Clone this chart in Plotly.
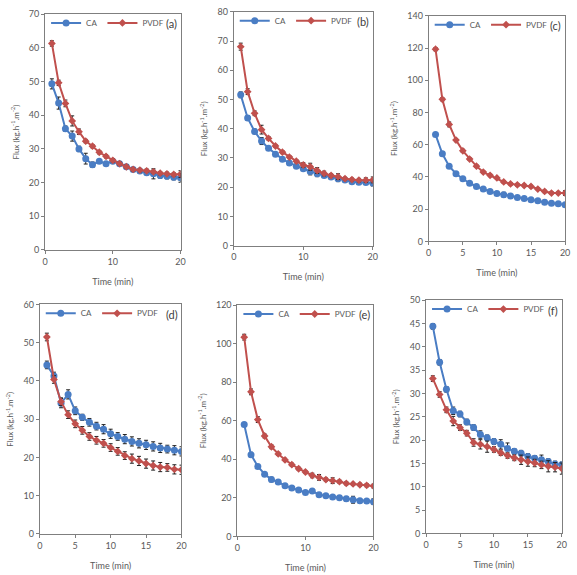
import plotly.graph_objects as go

time_min = list(range(1, 21))

# ---- panel (a)
ca_a = [49.3, 43.6, 36.0, 33.8, 30.0, 27.1, 25.3, 26.3, 25.6, 26.3, 25.6, 24.7, 23.9, 23.4, 22.9, 22.6, 22.1, 21.9, 21.6, 21.4]
pvdf_a = [61.3, 49.6, 43.5, 38.3, 35.1, 32.3, 30.8, 29.0, 27.8, 26.6, 25.6, 24.7, 23.9, 23.7, 23.5, 23.2, 22.8, 22.6, 22.4, 22.5]
ca_a_err = [1.5, 1.8, 0.8, 1.5, 0.8, 1.6, 0.8, 0.5, 0.5, 0.5, 0.5, 0.5, 0.5, 0.5, 0.6, 1.5, 0.8, 0.8, 0.8, 1.3]
pvdf_a_err = [0.8, 0.8, 1.0, 1.5, 0.8, 0.5, 0.5, 0.5, 0.5, 0.5, 0.5, 0.5, 0.5, 0.5, 0.5, 0.5, 0.5, 0.5, 0.5, 1.0]

# ---- panel (b)
ca_b = [51.6, 43.7, 39.1, 35.8, 33.3, 31.3, 29.6, 28.3, 27.2, 26.3, 25.4, 24.6, 24.0, 23.5, 22.9, 22.5, 21.9, 21.7, 21.6, 21.4]
pvdf_b = [68.1, 52.7, 45.3, 39.7, 36.7, 34.1, 32.0, 30.3, 28.9, 27.6, 27.0, 25.7, 24.7, 24.0, 23.6, 22.9, 22.6, 22.4, 22.4, 22.5]
ca_b_err = [1.0, 0.8, 0.8, 1.2, 0.6, 0.5, 0.5, 0.5, 0.5, 0.5, 1.2, 1.0, 0.6, 0.6, 1.0, 0.5, 0.6, 0.6, 0.6, 1.0]
pvdf_b_err = [1.2, 1.0, 0.8, 1.5, 0.6, 0.5, 0.5, 0.5, 0.5, 0.8, 1.2, 1.0, 0.8, 0.6, 1.0, 0.5, 0.5, 0.6, 0.8, 1.0]

# ---- panel (c)
ca_c = [66.3, 54.4, 46.7, 42.0, 38.9, 36.1, 34.1, 32.5, 31.0, 29.8, 29.0, 28.2, 27.2, 26.6, 25.8, 25.2, 24.3, 23.7, 23.3, 22.7]
pvdf_c = [119.3, 88.2, 72.6, 62.9, 56.2, 51.1, 46.7, 43.0, 41.0, 39.4, 36.9, 35.7, 35.1, 34.7, 34.1, 32.5, 31.0, 30.0, 30.0, 30.0]
ca_c_err = [1.2, 1.2, 1.0, 1.0, 0.8, 0.8, 0.8, 0.6, 0.6, 0.6, 1.5, 0.8, 0.8, 0.8, 0.8, 0.8, 1.2, 0.8, 0.8, 0.8]
pvdf_c_err = [1.0, 1.0, 1.5, 1.0, 1.0, 0.8, 0.8, 0.8, 0.8, 0.8, 0.8, 0.8, 0.8, 0.8, 0.8, 0.8, 0.8, 0.8, 0.8, 1.5]

# ---- panel (d)
ca_d = [44.2, 41.3, 34.2, 36.5, 32.2, 30.5, 29.2, 28.2, 27.4, 26.2, 25.5, 24.8, 24.2, 23.7, 23.3, 22.9, 22.5, 22.2, 21.9, 21.6]
pvdf_d = [51.5, 40.4, 34.6, 31.2, 28.8, 27.1, 25.5, 24.5, 23.7, 22.6, 21.6, 20.5, 19.7, 19.1, 18.4, 17.9, 17.5, 17.4, 16.9, 16.8]
ca_d_err = [1.0, 1.0, 1.2, 1.2, 1.0, 0.8, 1.0, 1.0, 1.2, 1.2, 1.0, 1.2, 1.2, 1.2, 1.2, 1.2, 1.2, 1.0, 1.2, 1.2]
pvdf_d_err = [1.0, 1.0, 1.0, 1.0, 1.0, 1.0, 1.0, 1.0, 1.0, 1.0, 1.0, 1.0, 1.2, 1.2, 1.2, 1.2, 1.2, 1.0, 1.2, 1.2]

# ---- panel (e)
ca_e = [58.1, 42.4, 36.3, 32.3, 29.5, 28.2, 26.3, 25.1, 24.1, 22.8, 23.6, 21.6, 21.1, 20.4, 20.0, 19.5, 19.0, 18.5, 18.3, 18.0]
pvdf_e = [103.4, 75.0, 60.6, 52.1, 46.5, 42.8, 39.7, 37.2, 35.1, 33.4, 31.6, 30.6, 29.5, 28.9, 28.4, 27.5, 27.2, 26.8, 26.5, 26.1]
ca_e_err = [1.0, 1.2, 1.0, 0.8, 1.2, 0.8, 0.8, 1.0, 0.8, 0.8, 0.8, 0.8, 0.8, 0.8, 0.8, 1.2, 1.8, 0.8, 0.8, 1.5]
pvdf_e_err = [1.5, 1.5, 1.5, 1.0, 1.0, 0.8, 0.8, 0.8, 0.8, 0.8, 1.2, 1.5, 0.8, 1.5, 0.8, 0.8, 0.8, 0.8, 0.8, 1.0]

# ---- panel (f)
ca_f = [44.4, 36.7, 30.9, 26.3, 25.6, 23.9, 22.7, 21.2, 20.5, 19.7, 19.1, 18.2, 17.6, 17.2, 16.5, 16.1, 15.8, 15.4, 14.9, 14.7]
pvdf_f = [33.2, 29.8, 26.5, 24.1, 22.7, 21.5, 19.5, 19.1, 18.6, 18.0, 17.3, 16.7, 16.2, 15.8, 15.4, 15.1, 14.7, 14.4, 14.2, 13.9]
ca_f_err = [0.6, 0.6, 0.6, 0.8, 0.6, 0.6, 0.6, 0.8, 0.6, 0.6, 1.0, 1.2, 0.6, 0.6, 0.6, 0.6, 1.0, 0.6, 0.6, 0.6]
pvdf_f_err = [0.6, 0.6, 0.6, 1.0, 0.6, 0.6, 0.8, 1.0, 1.2, 0.6, 0.6, 0.6, 0.6, 1.0, 1.0, 0.8, 0.8, 1.2, 1.0, 1.2]

panel_labels = ["(a)", "(b)", "(c)", "(d)", "(e)", "(f)"]
ca_series = [ca_a, ca_b, ca_c, ca_d, ca_e, ca_f]
pvdf_series = [pvdf_a, pvdf_b, pvdf_c, pvdf_d, pvdf_e, pvdf_f]
ca_errs = [ca_a_err, ca_b_err, ca_c_err, ca_d_err, ca_e_err, ca_f_err]
pvdf_errs = [pvdf_a_err, pvdf_b_err, pvdf_c_err, pvdf_d_err, pvdf_e_err, pvdf_f_err]
y_max = [70, 80, 140, 60, 120, 50]
y_step = [10, 10, 20, 10, 20, 5]
x_step = [10, 10, 5, 5, 10, 5]

# layout (pixel boxes of each plot area: left, right, top, bottom)
W, H = 577, 575
boxes = [
    (42.7, 180.0, 8.3, 248.7),
    (234.0, 375.0, 6.0, 244.3),
    (431.7, 570.0, 10.0, 240.0),
    (37.3, 181.0, 304.3, 538.3),
    (237.7, 375.7, 305.0, 540.7),
    (429.0, 566.7, 300.0, 537.7),
]

CA_COLOR = "#4a7dc4"
PVDF_COLOR = "#c0504d"
AX_COLOR = "#7f7f7f"
TXT = "#595959"
FONT = "Lato"

fig = go.Figure()
layout = dict(
    width=W, height=H,
    margin=dict(l=0, r=0, t=0, b=0),
    paper_bgcolor="white", plot_bgcolor="white",
    font=dict(family=FONT, color=TXT, size=8),
    showlegend=True,
    annotations=[],
)

for i in range(6):
    n = "" if i == 0 else str(i + 1)
    xa, ya = "x" + n, "y" + n
    leg = "legend" if i == 0 else "legend" + str(i + 1)
    l, r, t, b = boxes[i]
    fig.add_trace(go.Scatter(
        x=time_min, y=ca_series[i], name="CA", mode="lines+markers",
        xaxis=xa, yaxis=ya, legend=leg,
        line=dict(color=CA_COLOR, width=2),
        marker=dict(symbol="circle", size=7, color=CA_COLOR),
        error_y=dict(type="data", array=ca_errs[i], color="#222222", thickness=1, width=2),
    ))
    fig.add_trace(go.Scatter(
        x=time_min, y=pvdf_series[i], name="PVDF", mode="lines+markers",
        xaxis=xa, yaxis=ya, legend=leg,
        line=dict(color=PVDF_COLOR, width=2),
        marker=dict(symbol="diamond", size=6, color=PVDF_COLOR),
        error_y=dict(type="data", array=pvdf_errs[i], color="#222222", thickness=1, width=2),
    ))
    dx = [l / W, r / W]
    dy = [1 - b / H, 1 - t / H]
    layout["xaxis" + n] = dict(
        domain=dx, anchor=ya, range=[0, 20], tickmode="linear", tick0=0, dtick=x_step[i],
        showline=True, linecolor=AX_COLOR, linewidth=1, mirror=True,
        showgrid=False, zeroline=False, ticks="outside", ticklen=3, tickcolor=AX_COLOR,
        tickfont=dict(size=9, color=TXT, family=FONT),
        title=dict(text="Time (min)", font=dict(size=9, color=TXT, family=FONT), standoff=12),
    )
    layout["yaxis" + n] = dict(
        domain=dy, anchor=xa, range=[0, y_max[i]], tickmode="linear", tick0=0, dtick=y_step[i],
        showline=True, linecolor=AX_COLOR, linewidth=1, mirror=True,
        showgrid=False, zeroline=False, ticks="outside", ticklen=3, tickcolor=AX_COLOR,
        tickfont=dict(size=9, color=TXT, family=FONT),
        title=dict(text="Flux (kg.h<sup>-1</sup>.m<sup>-2</sup>)", font=dict(size=8, color=TXT, family=FONT), standoff=8),
    )
    layout[leg] = dict(
        orientation="h", x=(l + 1) / W, y=1 - (t + 9) / H, xanchor="left", yanchor="middle",
        bgcolor="rgba(0,0,0,0)", font=dict(size=8, color=TXT, family=FONT),
        itemwidth=30, tracegroupgap=0,
    )
    layout["annotations"].append(dict(
        text=panel_labels[i], xref="paper", yref="paper",
        x=(r - 2) / W, y=1 - (t + 10) / H, xanchor="right", yanchor="middle",
        showarrow=False, font=dict(size=11, color="#404040", family=FONT),
    ))

fig.update_layout(**layout)
fig.write_html("out.html")
